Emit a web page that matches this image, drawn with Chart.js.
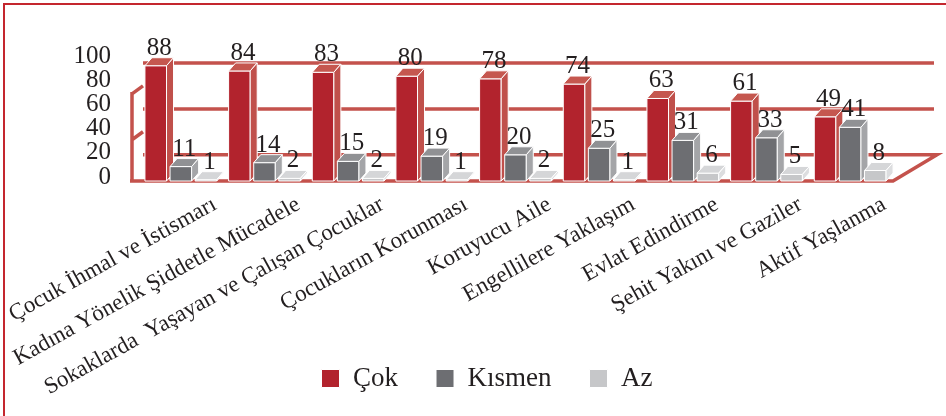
<!DOCTYPE html>
<html>
<head>
<meta charset="utf-8">
<script src="https://cdn.jsdelivr.net/npm/chart.js@4"></script>
<style>
  body { margin: 0; background: #fff; }
  #wrap { position: relative; width: 946px; height: 416px; }
  #frame { position: absolute; left: 3px; top: 3px; right: 0; bottom: 0; border-left: 2px solid #c4262e; border-top: 2px solid #c4262e; pointer-events: none; }
</style>
</head>
<body>
<div id="wrap">
  <canvas id="myChart" width="946" height="416"></canvas>
  <div id="frame"></div>
</div>
<script>
var categories = ['Çocuk İhmal ve İstismarı', 'Kadına Yönelik Şiddetle Mücadele', 'Sokaklarda  Yaşayan ve Çalışan Çocuklar', 'Çocukların Korunması', 'Koruyucu Aile', 'Engellilere Yaklaşım', 'Evlat Edindirme', 'Şehit Yakını ve Gaziler', 'Aktif Yaşlanma'];
var seriesNames = ['Çok', 'Kısmen', 'Az'];
var cok = [88, 84, 83, 80, 78, 74, 63, 61, 49];
var kismen = [11, 14, 15, 19, 20, 25, 31, 33, 41];
var az = [1, 2, 2, 1, 2, 1, 6, 5, 8];
var yTicks = [0, 20, 40, 60, 80, 100];
var wallLines = [40, 80];

var serif = '"Liberation Serif", "DejaVu Serif", serif';
var textColor = '#231f20';
var wallColor = '#c4524c';
// front, top, side face colours per series
var faces = [
  ['#b2232d', '#c5574f', '#c0504b'],
  ['#6d6e72', '#909194', '#a4a5a8'],
  ['#c6c7c9', '#d5d6d8', '#dcdddf']
];
var DX = 7, DY = 8;

var frame3d = {
  id: 'frame3d',
  afterLayout: function(chart) {
    // let rotated / long tick labels spill outside their boxes
    chart.scales.x.bottom = chart.height;
    chart.scales.yLab.left = 0;
  },
  beforeDatasetsDraw: function(chart) {
    var ctx = chart.ctx, a = chart.chartArea;
    var y = chart.scales.y, w = chart.scales.yWall;
    var front = y.getPixelForValue(0), back = w.getPixelForValue(0);
    var lx = a.left - 9, rx = a.right + 1;
    ctx.save();
    ctx.strokeStyle = wallColor;
    ctx.lineWidth = 3.5;
    ctx.beginPath();
    // floor
    ctx.moveTo(lx, front); ctx.lineTo(rx, front);
    ctx.lineTo(rx + 44, back); ctx.lineTo(lx + 13, back);
    // back wall grid
    wallLines.forEach(function(v) {
      var py = w.getPixelForValue(v);
      ctx.moveTo(lx + 13, py); ctx.lineTo(rx + 41, py);
    });
    // left wall
    var top = y.getPixelForValue(68), mid = y.getPixelForValue(33);
    ctx.moveTo(lx + 2, front); ctx.lineTo(lx + 2, top);
    ctx.moveTo(lx + 2, top + 2); ctx.lineTo(lx + 13, top - 6);
    ctx.moveTo(lx + 2, mid + 2); ctx.lineTo(lx + 13, mid - 6);
    ctx.stroke();
    ctx.restore();
  }
};

var bars3d = {
  id: 'bars3d',
  afterDatasetsDraw: function(chart) {
    var ctx = chart.ctx;
    var metas = chart.data.datasets.map(function(d, i) { return chart.getDatasetMeta(i); });
    ctx.save();
    ctx.strokeStyle = '#ffffff';
    ctx.lineWidth = 1;
    ctx.lineJoin = 'round';
    for (var i = 0; i < categories.length; i++) {
      for (var d = 0; d < metas.length; d++) {
        var p = metas[d].data[i].getProps(['x', 'y', 'base', 'width'], true);
        var xl = p.x - p.width / 2, xr = p.x + p.width / 2;
        var f = faces[d];
        // front
        ctx.fillStyle = f[0];
        ctx.beginPath();
        ctx.rect(xl, p.y, xr - xl, p.base - p.y);
        ctx.fill(); ctx.stroke();
        // top
        ctx.fillStyle = f[1];
        ctx.beginPath();
        ctx.moveTo(xl, p.y); ctx.lineTo(xl + DX, p.y - DY);
        ctx.lineTo(xr + DX, p.y - DY); ctx.lineTo(xr, p.y); ctx.closePath();
        ctx.fill(); ctx.stroke();
        // side
        ctx.fillStyle = f[2];
        ctx.beginPath();
        ctx.moveTo(xr, p.y); ctx.lineTo(xr + DX, p.y - DY);
        ctx.lineTo(xr + DX, p.base - DY); ctx.lineTo(xr, p.base); ctx.closePath();
        ctx.fill(); ctx.stroke();
      }
    }
    // value labels
    ctx.fillStyle = textColor;
    ctx.font = '25px ' + serif;
    ctx.textAlign = 'center';
    ctx.textBaseline = 'alphabetic';
    metas.forEach(function(meta, d) {
      meta.data.forEach(function(bar, i) {
        var p = bar.getProps(['x', 'y'], true);
        ctx.fillText(chart.data.datasets[d].data[i], p.x + DX / 2, p.y - 11);
      });
    });
    ctx.restore();
  }
};

var ctx = document.getElementById('myChart').getContext('2d');
var chart = new Chart(ctx, {
  type: 'bar',
  data: {
    labels: categories,
    datasets: [
      { label: seriesNames[0], data: cok, backgroundColor: faces[0][0], borderColor: '#ffffff', borderWidth: 1 },
      { label: seriesNames[1], data: kismen, backgroundColor: faces[1][0], borderColor: '#ffffff', borderWidth: 1 },
      { label: seriesNames[2], data: az, backgroundColor: faces[2][0], borderColor: '#ffffff', borderWidth: 1 }
    ]
  },
  options: {
    responsive: false,
    animation: false,
    categoryPercentage: 0.9,
    barPercentage: 0.86,
    layout: { padding: { left: 82, right: 54, top: 50, bottom: 14 } },
    plugins: {
      legend: {
        position: 'bottom',
        labels: {
          color: textColor,
          font: { family: serif, size: 27 },
          boxWidth: 18,
          boxHeight: 18,
          padding: 38
        }
      },
      tooltip: { enabled: false }
    },
    scales: {
      x: {
        grid: { display: false, drawTicks: false },
        border: { display: false },
        ticks: {
          color: textColor,
          font: { family: serif, size: 23 },
          minRotation: 29,
          maxRotation: 29,
          autoSkip: false,
          padding: 10,
          labelOffset: 34
        },
        afterFit: function(s) { s.paddingLeft = 0; s.paddingRight = 0; s.height = 146; }
      },
      y: { display: false, min: 0, max: 100 },
      yWall: { display: false, min: -22.86, max: 91.43 },
      yLab: {
        position: 'left',
        min: -3.33,
        max: 105,
        grid: { display: false, drawTicks: false },
        border: { display: false },
        ticks: { color: textColor, font: { family: serif, size: 25 }, padding: 28, autoSkip: false },
        afterBuildTicks: function(s) { s.ticks = yTicks.map(function(v) { return { value: v }; }); },
        afterFit: function(s) { s.width = 57; }
      }
    }
  },
  plugins: [frame3d, bars3d]
});
</script>
</body>
</html>
